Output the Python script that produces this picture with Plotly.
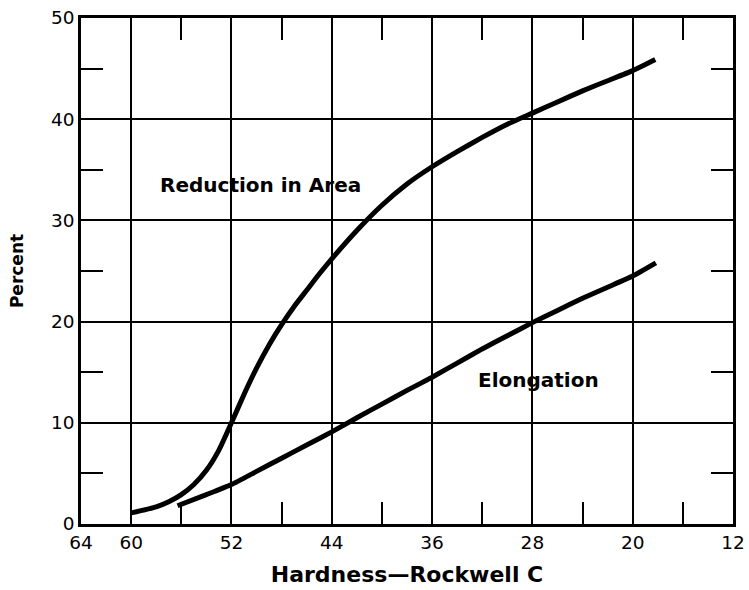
import plotly.graph_objects as go

# Reduction in Area curve (hardness HRC, percent)
ra_hard = [60, 58, 57, 56, 55, 54, 53, 52, 51, 50, 49, 48, 47, 46, 45, 44, 42, 40,
           38, 36, 34, 32, 30, 28, 26, 24, 22, 20, 18.2]
ra_pct = [1.1, 1.7, 2.2, 2.9, 3.9, 5.3, 7.3, 10.0, 12.8, 15.4, 17.7, 19.7, 21.5, 23.1,
          24.7, 26.2, 29.0, 31.5, 33.6, 35.3, 36.8, 38.2, 39.5, 40.6, 41.7, 42.8, 43.8,
          44.8, 45.9]

# Elongation curve
el_hard = [56.3, 54, 52, 50, 48, 46, 44, 42, 40, 38, 36, 34, 32, 30, 28, 26, 24, 22,
           20, 18.15]
el_pct = [1.8, 2.9, 3.9, 5.2, 6.5, 7.8, 9.1, 10.5, 11.85, 13.2, 14.5, 15.9, 17.3,
          18.6, 19.9, 21.1, 22.3, 23.4, 24.5, 25.8]

x_ticks = [64, 60, 52, 44, 36, 28, 20, 12]
x_minor = [56, 48, 40, 32, 24, 16]
y_ticks = [0, 10, 20, 30, 40, 50]
y_minor = [5, 15, 25, 35, 45]

labels = [("Reduction in Area", 49.7, 33.5), ("Elongation", 27.5, 14.2)]

fig = go.Figure()
for xs, ys in [(ra_hard, ra_pct), (el_hard, el_pct)]:
    fig.add_trace(go.Scatter(x=xs, y=ys, mode="lines",
                             line=dict(color="black", width=5, shape="spline", smoothing=0.5),
                             showlegend=False, hoverinfo="skip"))

for text, lx, ly in labels:
    fig.add_annotation(x=lx, y=ly, text=text, showarrow=False,
                       font=dict(family="DejaVu Sans", size=20, color="black", weight="bold"))

axis_common = dict(
    showline=True, linecolor="black", linewidth=2.5, mirror="ticks",
    showgrid=True, gridcolor="black", gridwidth=2, automargin=False,
    zeroline=False, ticks="inside", ticklen=4, tickwidth=2, tickcolor="black",
    tickfont=dict(family="DejaVu Sans", size=18.5, color="black"),
)

fig.update_xaxes(range=[64, 12], tickmode="array", tickvals=x_ticks,
                 ticktext=[str(v) for v in x_ticks],
                 minor=dict(tickmode="array", tickvals=x_minor, ticks="inside",
                            ticklen=22, tickwidth=2, tickcolor="black", showgrid=False),
                 title=dict(text="Hardness\u2014Rockwell C", standoff=15,
                            font=dict(family="DejaVu Sans", size=22, color="black", weight="bold")),
                 **axis_common)
fig.update_yaxes(range=[0, 50], tickmode="array", tickvals=y_ticks,
                 minor=dict(tickmode="array", tickvals=y_minor, ticks="inside",
                            ticklen=22, tickwidth=2, tickcolor="black", showgrid=False),
                 title=dict(text="Percent", standoff=24,
                            font=dict(family="DejaVu Sans", size=17, color="black", weight="bold")),
                 **axis_common)

fig.update_layout(width=749, height=590, margin=dict(l=81, r=16, t=18, b=66),
                  plot_bgcolor="white", paper_bgcolor="white")

fig.write_html("out.html", config={"displayModeBar": False},
               post_script="document.body.style.margin='0';")
